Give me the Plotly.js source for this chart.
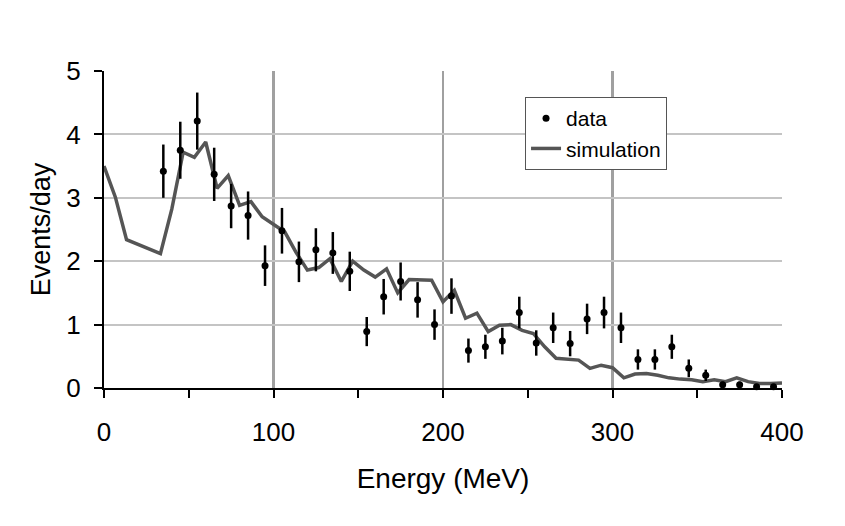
<!DOCTYPE html>
<html>
<head>
<meta charset="utf-8">
<script src="https://cdn.plot.ly/plotly-3.0.1.min.js"></script>
<style>
  html, body { margin: 0; padding: 0; background: #fff; }
  #chart { width: 845px; height: 526px; }
</style>
</head>
<body>
<div id="chart"></div>
<script>
// measured points, one per 10 MeV bin
var dataEnergy = [35, 45, 55, 65, 75, 85, 95, 105, 115, 125, 135, 145, 155, 165, 175, 185, 195, 205, 215, 225,
                  235, 245, 255, 265, 275, 285, 295, 305, 315, 325, 335, 345, 355, 365, 375, 385, 395];
var dataRate = [3.42, 3.75, 4.21, 3.37, 2.87, 2.72, 1.93, 2.48, 1.99, 2.18, 2.13, 1.84, 0.89, 1.44, 1.68, 1.39, 1.00, 1.45, 0.59, 0.65,
                0.74, 1.19, 0.71, 0.95, 0.70, 1.09, 1.19, 0.95, 0.45, 0.45, 0.65, 0.31, 0.20, 0.05, 0.05, 0.02, 0.02];
var dataErr = [0.42, 0.45, 0.45, 0.42, 0.35, 0.38, 0.32, 0.36, 0.32, 0.34, 0.33, 0.31, 0.23, 0.28, 0.30, 0.28, 0.24, 0.28, 0.19, 0.19,
               0.21, 0.25, 0.20, 0.24, 0.20, 0.24, 0.25, 0.24, 0.16, 0.16, 0.19, 0.14, 0.09, 0.05, 0.05, 0.03, 0.03];

// simulation curve
var simEnergy = [0, 6.7, 13.3, 20, 26.7, 33.3, 40, 46.7, 53.3, 60, 66.7, 73.3, 80, 86.7, 93.3, 100, 106.7, 113.3, 120, 126.7,
                 133.3, 140, 146.7, 153.3, 160, 166.7, 173.3, 180, 186.7, 193.3, 200, 206.7, 213.3, 220, 226.7, 233.3, 240, 246.7, 253.3, 260,
                 266.7, 273.3, 280, 286.7, 293.3, 300, 306.7, 313.3, 320, 326.7, 333.3, 340, 346.7, 353.3, 360, 366.7, 373.3, 380, 386.7, 393.3, 400];
var simRate = [3.50, 3.01, 2.34, 2.27, 2.19, 2.12, 2.82, 3.72, 3.64, 3.88, 3.15, 3.35, 2.88, 2.94, 2.70, 2.58, 2.46, 2.14, 1.86, 1.90,
               2.04, 1.68, 2.00, 1.86, 1.75, 1.88, 1.50, 1.71, 1.70, 1.70, 1.36, 1.54, 1.10, 1.18, 0.89, 0.99, 1.00, 0.91, 0.86, 0.65,
               0.47, 0.45, 0.44, 0.31, 0.36, 0.32, 0.16, 0.22, 0.23, 0.20, 0.16, 0.14, 0.13, 0.10, 0.13, 0.10, 0.16, 0.10, 0.07, 0.07, 0.08];

var xLabels = [0, 100, 200, 300, 400];
var yLabels = [0, 1, 2, 3, 4, 5];

var font = 'Liberation Sans, Arial, sans-serif';

var simTrace = {
  x: simEnergy,
  y: simRate,
  name: 'simulation',
  type: 'scatter',
  mode: 'lines',
  line: {color: '#555555', width: 3.5}
};

var dataTrace = {
  x: dataEnergy,
  y: dataRate,
  name: 'data',
  type: 'scatter',
  mode: 'markers',
  cliponaxis: false,
  marker: {color: '#000000', size: 7},
  error_y: {type: 'data', array: dataErr, visible: true, color: '#000000', thickness: 2.5, width: 0}
};

var layout = {
  width: 845,
  height: 526,
  paper_bgcolor: '#ffffff',
  plot_bgcolor: '#ffffff',
  margin: {l: 104, r: 63, t: 71, b: 138},
  font: {family: font, size: 26, color: '#000000'},
  showlegend: true,
  legend: {
    x: 0.621, y: 0.918, xanchor: 'left', yanchor: 'top',
    traceorder: 'reversed',
    bgcolor: '#ffffff', bordercolor: '#555555', borderwidth: 1,
    font: {family: font, size: 21, color: '#000000'}
  },
  xaxis: {
    range: [0, 400],
    tickvals: xLabels,
    ticks: 'outside', ticklen: 8, tickwidth: 2, tickcolor: '#000000',
    ticklabelstandoff: 12,
    minor: {dtick: 50, ticks: 'outside', ticklen: 8, tickwidth: 2, tickcolor: '#000000', showgrid: false},
    showline: true, linecolor: '#000000', linewidth: 2,
    showgrid: true, gridcolor: '#a0a0a0', gridwidth: 2.5,
    zeroline: false,
    title: {text: 'Energy (MeV)', font: {family: font, size: 28}, standoff: 22}
  },
  yaxis: {
    range: [0, 5],
    tickvals: yLabels,
    ticks: 'outside', ticklen: 8, tickwidth: 2, tickcolor: '#000000',
    ticklabelstandoff: 8,
    showline: true, linecolor: '#000000', linewidth: 2,
    showgrid: true, gridcolor: '#c4c4c4', gridwidth: 2,
    zeroline: false,
    title: {text: 'Events/day', font: {family: font, size: 27}, standoff: 8}
  }
};

Plotly.newPlot('chart', [simTrace, dataTrace], layout, {displayModeBar: false, staticPlot: true});
</script>
</body>
</html>
